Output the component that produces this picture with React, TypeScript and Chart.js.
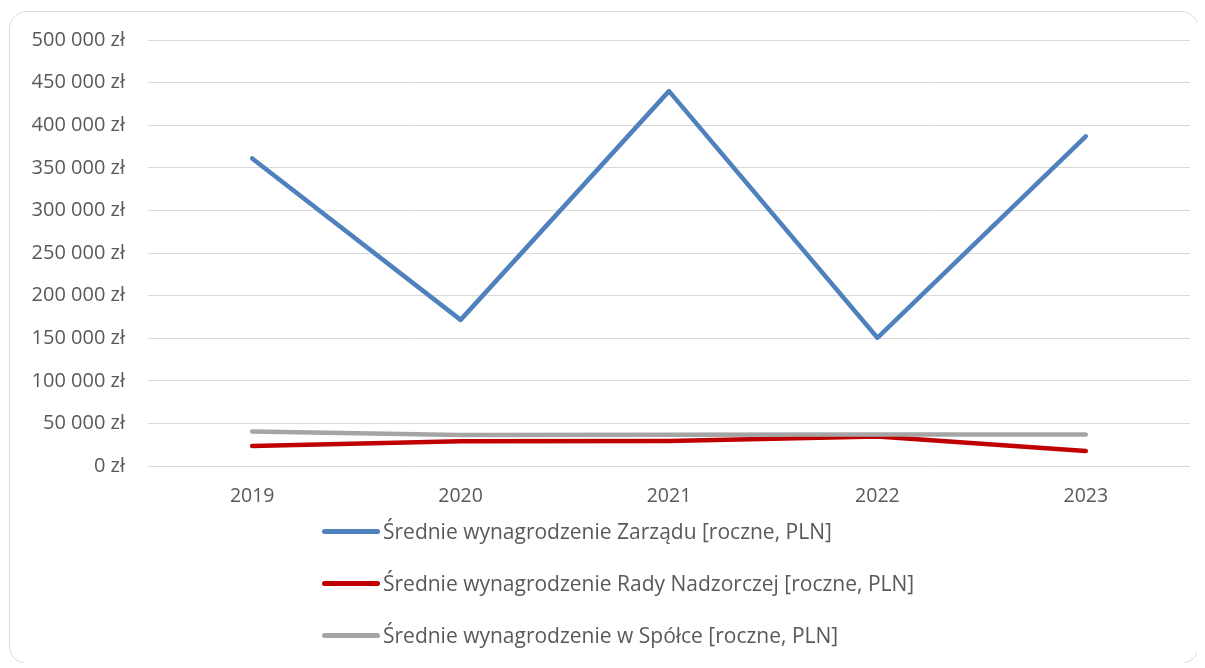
import React, { useEffect, useRef } from "react";
import { Chart, registerables } from "chart.js";

Chart.register(...registerables);

const years = ["2019", "2020", "2021", "2022", "2023"];
const zarzad = [361000, 171500, 440000, 150500, 387000];
const rada = [23400, 29100, 29300, 34500, 17500];
const spolka = [40400, 36300, 36800, 37000, 37000];

const seriesNames = [
  "Średnie wynagrodzenie Zarządu [roczne, PLN]",
  "Średnie wynagrodzenie Rady Nadzorczej [roczne, PLN]",
  "Średnie wynagrodzenie w Spółce [roczne, PLN]",
];
const seriesColors = ["#4f81bd", "#c00000", "#a5a5a5"];

const FONT = "'Open Sans', Lato, sans-serif";

function fmt(v: number): string {
  return `${Math.round(v).toString().replace(/\B(?=(\d{3})+(?!\d))/g, " ")} zł`;
}

export default function App() {
  const ref = useRef<HTMLCanvasElement | null>(null);

  useEffect(() => {
    if (!ref.current) return;
    const values = [zarzad, rada, spolka];
    const chart = new Chart(ref.current, {
      type: "line",
      data: {
        labels: years,
        datasets: values.map((d, i) => ({
          label: seriesNames[i],
          data: d,
          borderColor: seriesColors[i],
          backgroundColor: seriesColors[i],
          borderWidth: 4.5,
          borderCapStyle: "round" as const,
          borderJoinStyle: "round" as const,
          pointRadius: 0,
          tension: 0,
          fill: false,
          order: 2 - i,
        })),
      },
      options: {
        animation: false,
        responsive: false,
        maintainAspectRatio: false,
        layout: { padding: { left: 0, right: 7, top: 29, bottom: 0 } },
        plugins: { legend: { display: false }, tooltip: { enabled: false } },
        scales: {
          x: {
            offset: true,
            grid: { display: false, drawTicks: false },
            border: { display: false },
            ticks: {
              color: "#595959",
              font: { family: FONT, size: 19.5 },
              padding: 19,
            },
            afterFit: (s: any) => {
              s.height = 52;
            },
          },
          y: {
            min: 0,
            max: 500000,
            grid: { color: "#d9d9d9", lineWidth: 1, drawTicks: false },
            border: { display: false },
            ticks: {
              stepSize: 50000,
              color: "#595959",
              font: { family: FONT, size: 20 },
              padding: 23,
              callback: (v: any) => fmt(Number(v)),
            },
            afterFit: (s: any) => {
              s.width = 140;
            },
          },
        },
      },
    });
    return () => chart.destroy();
  }, []);

  return (
    <div style={{ position: "relative", width: 1189, height: 655 }}>
      <div
        style={{
          position: "absolute",
          left: 1,
          top: 3,
          width: 1190,
          height: 653,
          border: "1.5px solid #d9d9d9",
          borderRadius: 18,
          boxSizing: "border-box",
        }}
      />
      <canvas
        ref={ref}
        width={1189}
        height={513}
        style={{ position: "absolute", left: 0, top: -3, width: 1189, height: 513 }}
      />
      <div style={{ position: "absolute", left: 314, top: 497 }}>
        {seriesNames.map((n, i) => (
          <div
            key={n}
            style={{ display: "flex", alignItems: "center", height: 52 }}
          >
            <div
              style={{
                width: 58,
                height: 5,
                borderRadius: 3,
                background: seriesColors[i],
                marginRight: 3,
              }}
            />
            <span
              style={{
                fontFamily: FONT,
                fontSize: 21,
                color: "#595959",
                whiteSpace: "nowrap",
              }}
            >
              {n}
            </span>
          </div>
        ))}
      </div>
    </div>
  );
}
